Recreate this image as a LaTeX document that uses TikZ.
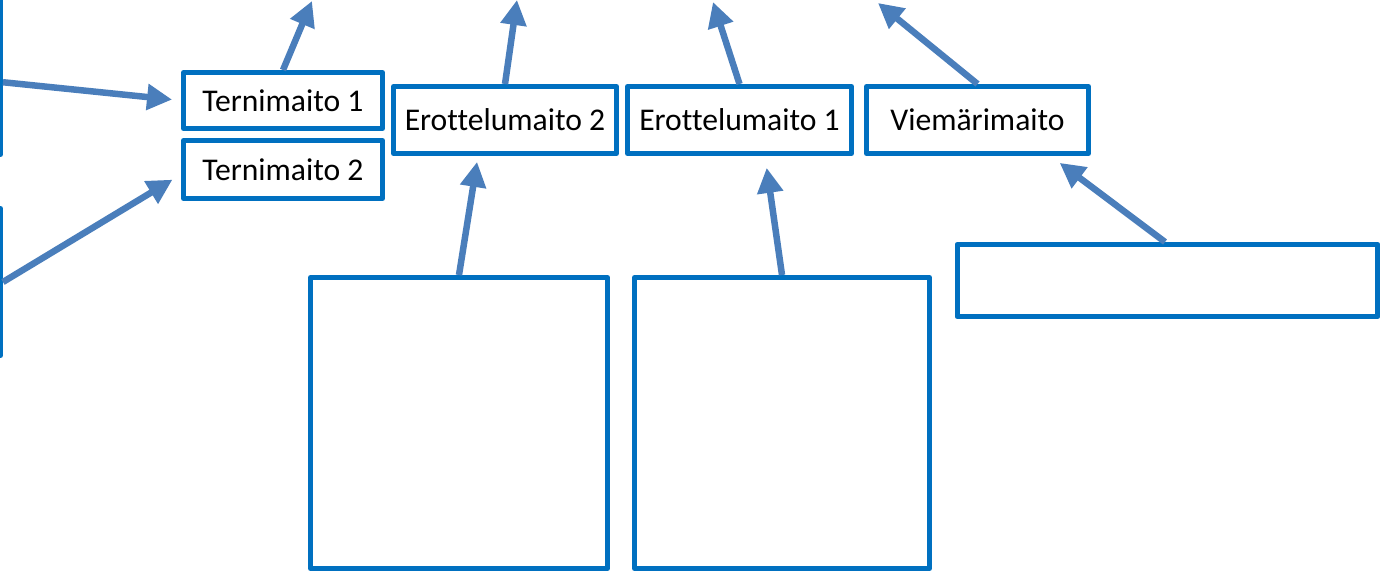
\documentclass[tikz,border=0pt]{standalone}
\usepackage{fontspec}
\setmainfont[Ligatures=NoCommon]{Carlito}
\usepackage{xcolor}
\usetikzlibrary{arrows.meta, positioning, calc}
\definecolor{laatikkosini}{RGB}{0,112,192}
\definecolor{nuolisini}{RGB}{74,126,187}
\tikzset{
    laatikko/.style={draw=laatikkosini, line width=0.1cm, line join=round, align=center, font=\fontsize{18}{22}\selectfont},
    nuoli/.style={->, draw=nuolisini, line width=0.13cm},
}

\begin{document}
\begin{tikzpicture}[x=0.02cm, y=-0.02cm, >={Triangle[length=0.5cm,width=0.5cm]}]
                    \useasboundingbox (0,0) rectangle (1383,573);
                    \clip (0,0) rectangle (1383,573);

                    \node[laatikko, minimum width=4.02cm, minimum height=4.29cm] (Vasen1) at (-100,47.25) {};
                    \node[laatikko, minimum width=4.02cm, minimum height=2.94cm] (Vasen2) at (-100,282) {};

                    \node[laatikko, minimum width=3.98cm, minimum height=1.12cm] (Ternimaito1) at (283,100.5) {Ternimaito 1};
                    \node[laatikko, minimum width=3.98cm, minimum height=1.16cm] (Ternimaito2) at (283,169.5) {Ternimaito 2};
                    \node[laatikko, minimum width=4.46cm, minimum height=1.34cm] (Erottelu2) at (505,120) {Erottelumaito 2};
                    \node[laatikko, minimum width=4.48cm, minimum height=1.34cm] (Erottelu1) at (739.5,120) {Erottelumaito 1};
                    \node[laatikko, minimum width=4.44cm, minimum height=1.34cm] (Viemari) at (977.5,120) {Viemärimaito};

                    \node[laatikko, minimum width=5.94cm, minimum height=5.82cm] (Laatikko1) at (459,423) {};
                    \node[laatikko, minimum width=5.90cm, minimum height=5.82cm] (Laatikko2) at (782,423) {};
                    \node[laatikko, minimum width=8.42cm, minimum height=1.44cm] (Alaoikea) at (1167.5,280.5) {};

                    \coordinate (Yla1) at (312,1);
                    \coordinate (Yla2) at (517,0);
                    \coordinate (Yla3) at (713,2);
                    \coordinate (Yla4) at (878,3);

                    \draw[nuoli, shorten >=0.18cm] ([yshift=-0.7cm]Vasen1.east) to (Ternimaito1.west);
                    \draw[nuoli, shorten >=0.2cm] (Vasen2.east) to ([yshift=-0.1cm]Ternimaito2.west);
                    \draw[nuoli] (Ternimaito1.north) to (Yla1);
                    \draw[nuoli] (Erottelu2.north) to (Yla2);
                    \draw[nuoli] (Erottelu1.north) to (Yla3);
                    \draw[nuoli] (Viemari.north) to (Yla4);
                    \draw[nuoli, shorten >=0.12cm] (Laatikko1.north) to ([xshift=-0.54cm]Erottelu2.south);
                    \draw[nuoli, shorten >=0.24cm] (Laatikko2.north) to ([xshift=0.51cm]Erottelu1.south);
                    \draw[nuoli, shorten >=0.23cm] ([xshift=-0.05cm]Alaoikea.north) to ([xshift=1.46cm]Viemari.south);
                \end{tikzpicture}
\end{document}
